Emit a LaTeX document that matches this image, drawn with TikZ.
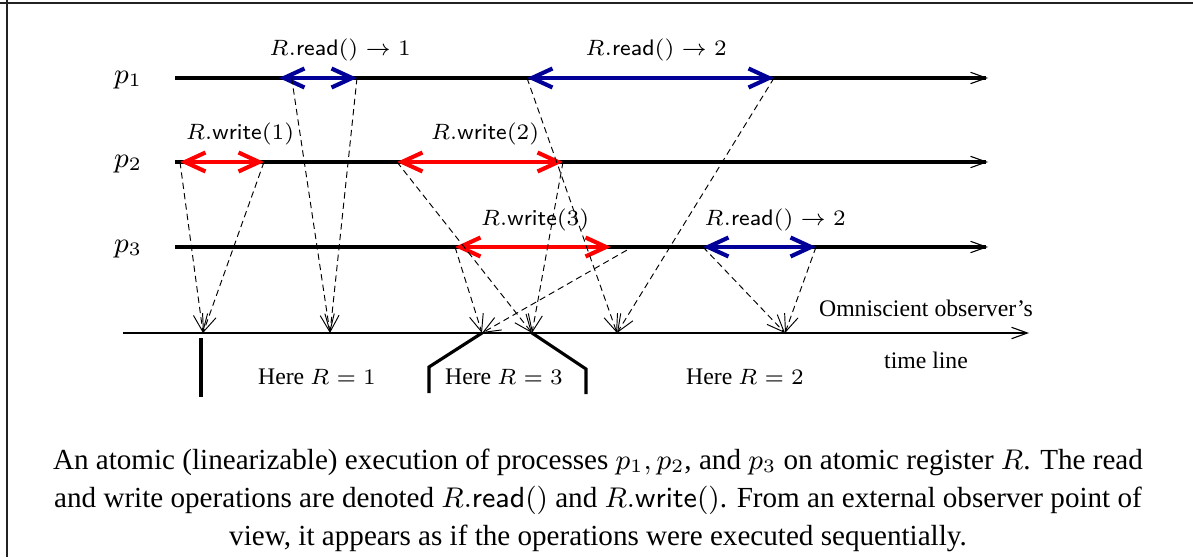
\documentclass[tikz,border=0pt]{standalone}
\usepackage{fontspec}
\setmainfont{Liberation Serif}
\usetikzlibrary{arrows.meta}
\definecolor{rdblue}{RGB}{0,0,153}
\definecolor{framegray}{RGB}{34,34,34}
\tikzset{
  proc/.style={line width=1pt,-{Straight Barb[length=5pt,width=3.6pt,line width=0.35pt]}},
  rdop/.style={draw=rdblue,line width=1.3pt,{Straight Barb[length=6.5pt,width=6pt]}-{Straight Barb[length=6.5pt,width=6pt]}},
  wrop/.style={rdop,draw=red},
  msg/.style={dashed,dash pattern=on 2pt off 1.3pt,line width=0.3pt,-{Straight Barb[length=5.5pt,width=4.5pt]}},
  obs/.style={line width=0.65pt,-{Straight Barb[length=5pt,width=3.6pt,line width=0.35pt]}},
  sep/.style={line width=1pt},
  lbl/.style={font=\fontsize{7.5}{9}\selectfont,inner sep=0pt},
  oplbl/.style={font=\fontsize{7.1}{9}\selectfont,inner sep=0pt},
  plbl/.style={font=\fontsize{9}{10}\selectfont,inner sep=0pt}
}
\begin{document}
\begin{tikzpicture}[x=0.316pt,y=-0.316pt]
\useasboundingbox (0,0) rectangle (1193,557);
% frame
\draw[framegray,line width=0.7pt] (0,2.7) -- (1193,2.7);
\draw[framegray,line width=0.7pt] (6.7,0) -- (6.7,557);

% processes
\node[plbl] (p1) at (128,80) {$p_1$};
\node[plbl] (p2) at (128,164) {$p_2$};
\node[plbl] (p3) at (128,249) {$p_3$};
\coordinate (p1s) at (175,78);  \coordinate (p1e) at (988,78);
\coordinate (p2s) at (175,162); \coordinate (p2e) at (988,162);
\coordinate (p3s) at (175,247); \coordinate (p3e) at (988,247);
\draw[proc] (p1s) -- (p1e);
\draw[proc] (p2s) -- (p2e);
\draw[proc] (p3s) -- (p3e);

% operations
\coordinate (rd1a) at (279,78);  \coordinate (rd1b) at (357,78);
\coordinate (rd2a) at (527,78);  \coordinate (rd2b) at (774,78);
\coordinate (wr1a) at (180,162); \coordinate (wr1b) at (264,162);
\coordinate (wr2a) at (397,162); \coordinate (wr2b) at (563,162);
\coordinate (wr3a) at (455,247); \coordinate (wr3b) at (611,247);
\coordinate (rd3a) at (703,247); \coordinate (rd3b) at (816,247);
\draw[rdop] (rd1a) -- (rd1b);
\draw[rdop] (rd2a) -- (rd2b);
\draw[wrop] (wr1a) -- (wr1b);
\draw[wrop] (wr2a) -- (wr2b);
\draw[wrop] (wr3a) -- (wr3b);
\draw[rdop] (rd3a) -- (rd3b);
\node[oplbl] (rd1l) at (340,50) {$R.\mathsf{read}()\rightarrow 1$};
\node[oplbl] (rd2l) at (656,50) {$R.\mathsf{read}()\rightarrow 2$};
\node[oplbl] (wr1l) at (240,134) {$R.\mathsf{write}(1)$};
\node[oplbl] (wr2l) at (485,134) {$R.\mathsf{write}(2)$};
\node[oplbl] (wr3l) at (535,220) {$R.\mathsf{write}(3)$};
\node[oplbl] (rd3l) at (775,220) {$R.\mathsf{read}()\rightarrow 2$};

% observer
\coordinate (obs) at (123,333); \coordinate (obe) at (1029,333);
\draw[obs] (obs) -- (obe);
\coordinate (o1) at (203,333);
\coordinate (o2) at (330,333);
\coordinate (o3) at (482,333);
\coordinate (o4) at (532,333);
\coordinate (o5) at (617,333);
\coordinate (o6) at (785,333);
\draw[msg] (wr1a) -- (o1);
\draw[msg] (wr1b) -- (o1);
\draw[msg] ([xshift=4]rd1a) -- (o2);
\draw[msg] (rd1b) -- (o2);
\draw[msg] (wr2a) -- (o4);
\draw[msg] (wr2b) -- (o4);
\draw[msg] (wr3a) -- (o3);
\draw[msg] ([xshift=5,yshift=-1]wr3b) -- (o3);
\draw[msg] (rd2a) -- (o5);
\draw[msg] (rd2b) -- (o5);
\draw[msg] (rd3a) -- (o6);
\draw[msg] (rd3b) -- (o6);

% linearization
\draw[sep] (201,338) -- (201,397);
\draw[sep] (o3) -- (429,367) -- (429,393);
\draw[sep] (o4) -- (586,369) -- (586,394);
\node[lbl] (h1) at (317,377) {Here $R=1$};
\node[lbl] (h3) at (504,377) {Here $R=3$};
\node[lbl] (h2) at (745,377) {Here $R=2$};
\node[lbl] (om) at (926,308) {Omniscient observer's};
\node[lbl] (tl) at (926,360) {time line};

% caption
\node[font=\fontsize{9.2}{12}\selectfont,align=center,inner sep=0pt] (cap) at (598,500)
 {An atomic (linearizable) execution of processes $p_1, p_2$, and $p_3$ on atomic register $R$. The read\\
  and write operations are denoted $R.\mathsf{read}()$ and $R.\mathsf{write}()$. From an external observer point of\\
  view, it appears as if the operations were executed sequentially.};
\end{tikzpicture}
\end{document}
